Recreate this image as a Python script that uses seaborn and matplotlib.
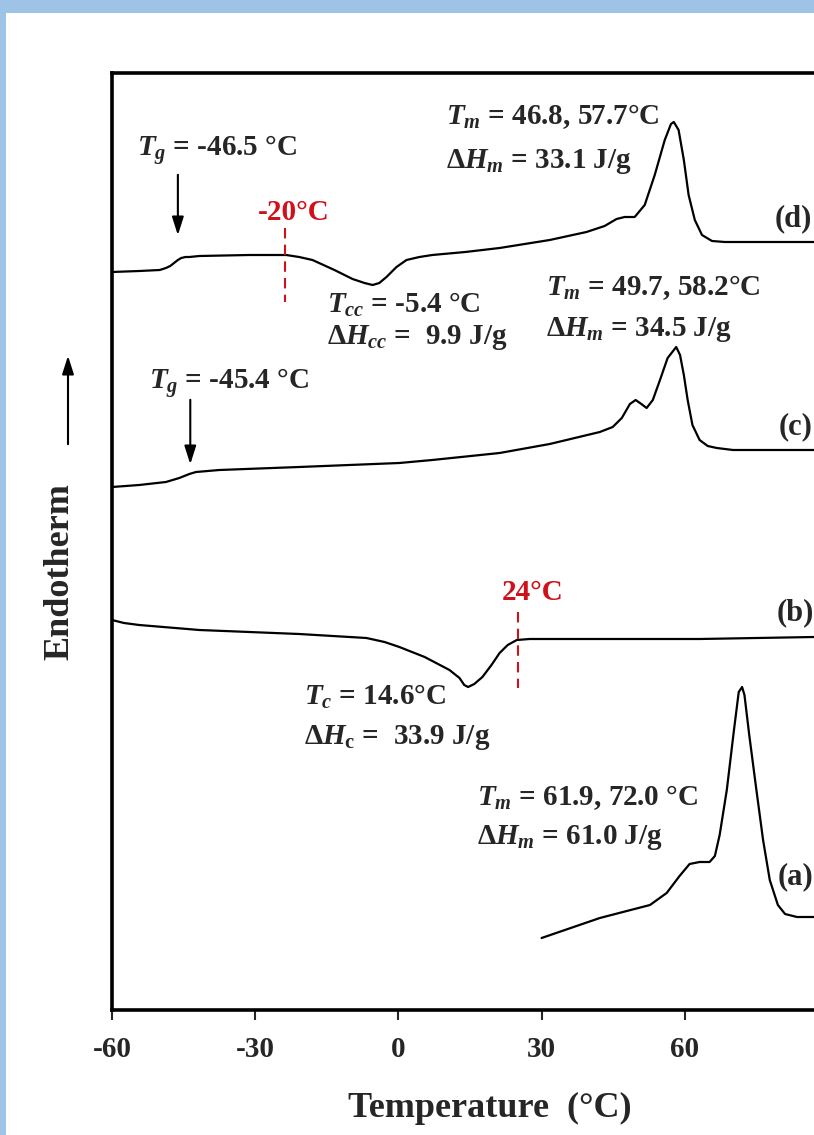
import numpy as np
import pandas as pd
import matplotlib
matplotlib.use("Agg")
import matplotlib.pyplot as plt
from matplotlib.patches import Rectangle, FancyArrowPatch
import seaborn as sns

# --- DATA (heat flow in arbitrary units) ---
temp_d = [-60.0, -54.3, -50.0, -48.7, -47.8, -47.0, -46.2, -45.5, -44.6, -43.8, -41.7, -31.3,
          -23.5, -20.8, -18.0, -13.4, -9.6, -7.1, -5.4, -4.0, -2.5, -0.4, 1.7, 4.4, 7.1,
          14.0, 21.2, 31.7, 39.4, 43.2, 45.7, 47.4, 49.5, 51.6, 53.7, 55.8, 57.1, 57.7,
          58.7, 59.8, 60.8, 62.1, 63.6, 65.7, 68.4, 90.0]
flow_d = [736, 737, 738, 740, 742, 745, 748, 750, 751, 751, 752, 753,
          753, 751, 748, 738, 729, 725, 723, 725, 731, 741, 748, 751, 753,
          756, 760, 768, 776, 782, 789, 791, 791, 803, 833, 868, 884, 886,
          878, 848, 813, 788, 773, 767, 766, 766]

temp_c = [-60.0, -54.3, -48.7, -45.9, -43.8, -42.4, -37.5, -20.8, 0.2, 7.1, 21.2, 31.7,
          42.2, 44.9, 46.8, 48.5, 49.7, 50.9, 52.0, 53.3, 54.8, 56.4, 58.2, 59.0, 59.8,
          60.6, 61.6, 63.1, 64.8, 66.7, 70.1, 90.0]
flow_c = [521, 523, 526, 530, 534, 536, 538, 541, 545, 548, 555, 564,
          576, 581, 590, 604, 608, 604, 600, 608, 628, 650, 661, 653, 633,
          608, 583, 568, 562, 560, 558, 558]

temp_b = [-60.0, -57.5, -54.3, -41.7, -20.8, -6.7, -2.9, 0.2, 5.5, 10.7, 12.8, 13.8,
          14.6, 15.9, 17.6, 19.5, 21.2, 22.9, 24.8, 27.5, 42.2, 63.1, 87.1, 90.0]
flow_b = [388, 385, 383, 378, 374, 370, 366, 361, 351, 338, 330, 323,
          321, 324, 331, 343, 355, 363, 368, 369, 369, 369, 371, 372]

temp_a = [30.0, 42.2, 52.7, 56.2, 58.9, 61.0, 63.1, 65.2, 66.3, 67.3, 68.8, 70.3,
          71.3, 72.0, 72.5, 73.5, 75.0, 76.4, 77.8, 79.5, 81.0, 83.5, 90.0]
flow_a = [70, 90, 103, 115, 132, 144, 146, 146, 152, 173, 218, 278,
          316, 321, 313, 273, 218, 168, 128, 103, 94, 91, 91]

x_ticks = [-60, -30, 0, 30, 60, 90]

df = pd.concat([
    pd.DataFrame({"T": temp_a, "Q": flow_a, "sample": "a"}),
    pd.DataFrame({"T": temp_b, "Q": flow_b, "sample": "b"}),
    pd.DataFrame({"T": temp_c, "Q": flow_c, "sample": "c"}),
    pd.DataFrame({"T": temp_d, "Q": flow_d, "sample": "d"}),
])

# --- STYLE ---
sns.set_style("ticks")
plt.rcParams["font.family"] = ["Liberation Serif", "DejaVu Serif"]
plt.rcParams["font.weight"] = "bold"
plt.rcParams["mathtext.fontset"] = "custom"
plt.rcParams["mathtext.rm"] = "Liberation Serif:bold"
plt.rcParams["mathtext.it"] = "Liberation Serif:italic:bold"
plt.rcParams["mathtext.bf"] = "Liberation Serif:bold"

fig = plt.figure(figsize=(8.14, 11.35), dpi=100, facecolor="#9DC3E6")
fig.add_artist(Rectangle((6 / 814, 0), 1, 1 - 13 / 1135, transform=fig.transFigure,
                         facecolor="white", edgecolor="none", zorder=-1))
ax = fig.add_axes([112 / 814, (1135 - 1010) / 1135, (828 - 112) / 814, (1010 - 73) / 1135])

sns.lineplot(data=df, x="T", y="Q", units="sample", estimator=None, sort=False,
             color="black", lw=1.6, ax=ax)

ax.set_xlim(-60, 90)
ax.set_ylim(-2, 935)
ax.set_xticks(x_ticks)
ax.set_xticklabels([str(t) for t in x_ticks], fontsize=21, fontweight="bold")
ax.set_yticks([])
ax.set_xlabel("")
ax.set_ylabel("")
ax.tick_params(axis="x", direction="out", length=7, width=1.5, pad=12)
for s in ax.spines.values():
    s.set_linewidth(2.6)
    s.set_color("black")

# --- ANNOTATIONS ---
fs = 21
red = "#D0101A"
arrow_style = "-|>,head_length=1.1,head_width=0.35"

# (d)
ax.text(-54.8, 858, r"$T_g$ = -46.5 °C", fontsize=fs, ha="left", va="center")
ax.annotate("", xy=(-46.2, 770), xytext=(-46.2, 836),
            arrowprops=dict(arrowstyle=arrow_style, lw=1.5, color="black"))
ax.text(-22.0, 796, "-20°C", fontsize=fs, color=red, ha="center", va="center")
ax.plot([-23.7, -23.7], [780, 706], color=red, lw=1.5, ls=(0, (5, 3)))
ax.text(-14.9, 703, r"$T_{cc}$ = -5.4 °C", fontsize=fs, ha="left", va="center")
ax.text(-14.9, 670, r"$\mathit{\Delta H}_{cc}$ =  9.9 J/g", fontsize=fs, ha="left", va="center")
ax.text(9.9, 891, r"$T_m$ = 46.8, 57.7°C", fontsize=fs, ha="left", va="center")
ax.text(9.9, 847, r"$\mathit{\Delta H}_m$ = 33.1 J/g", fontsize=fs, ha="left", va="center")
ax.text(82.8, 789, "(d)", fontsize=22, ha="center", va="center")

# (c)
ax.text(-52.2, 625, r"$T_g$ = -45.4 °C", fontsize=fs, ha="left", va="center")
ax.annotate("", xy=(-43.6, 541), xytext=(-43.6, 611),
            arrowprops=dict(arrowstyle=arrow_style, lw=1.5, color="black"))
ax.text(31.0, 720, r"$T_m$ = 49.7, 58.2°C", fontsize=fs, ha="left", va="center")
ax.text(31.0, 678, r"$\mathit{\Delta H}_m$ = 34.5 J/g", fontsize=fs, ha="left", va="center")
ax.text(83.1, 581, "(c)", fontsize=22, ha="center", va="center")

# (b)
ax.text(28.1, 416, "24°C", fontsize=fs, color=red, ha="center", va="center")
ax.plot([25.0, 25.0], [396, 320], color=red, lw=1.5, ls=(0, (5, 3)))
ax.text(-19.7, 311, r"$T_c$ = 14.6°C", fontsize=fs, ha="left", va="center")
ax.text(-19.7, 271, r"$\mathit{\Delta H}_{\rm c}$ =  33.9 J/g", fontsize=fs, ha="left", va="center")
ax.text(83.1, 395, "(b)", fontsize=22, ha="center", va="center")

# (a)
ax.text(16.4, 210, r"$T_m$ = 61.9, 72.0 °C", fontsize=fs, ha="left", va="center")
ax.text(16.4, 171, r"$\mathit{\Delta H}_m$ = 61.0 J/g", fontsize=fs, ha="left", va="center")
ax.text(83.1, 131, "(a)", fontsize=22, ha="center", va="center")

# axis titles
fig.text(490 / 814, 1 - 1108 / 1135, "Temperature  (°C)", fontsize=26, ha="center", va="center")
fig.text(60 / 814, 1 - 572 / 1135, "Endotherm", fontsize=26, rotation=90, ha="center", va="center")
fig.patches.append(FancyArrowPatch(
    (68 / 814, 1 - 447 / 1135), (68 / 814, 1 - 353 / 1135), transform=fig.transFigure,
    arrowstyle=arrow_style, mutation_scale=10, lw=1.5, color="black"))

fig.savefig("out.png", dpi=100, facecolor=fig.get_facecolor())
